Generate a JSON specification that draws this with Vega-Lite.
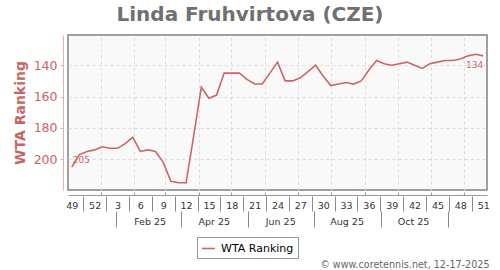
{
  "$schema": "https://vega.github.io/schema/vega-lite/v6.json",
  "width": 419,
  "height": 155,
  "autosize": {"type": "none"},
  "padding": {"left": 68, "top": 35, "right": 13, "bottom": 80},
  "background": "white",
  "title": {"text": "Linda Fruhvirtova (CZE)", "anchor": "middle", "dx": -27.5, "offset": -6, "baseline": "alphabetic", "font": "DejaVu Sans", "fontSize": 20, "fontWeight": "bold", "color": "#707070"},
  "config": {"view": {"stroke": "#808080", "strokeWidth": 1.5, "fill": "#f9f9f9"}, "font": "DejaVu Sans"},
  "data": {"values": [
    {"date": "2024-12-05T12:00", "rank": 205},
    {"date": "2024-12-12T12:00", "rank": 197},
    {"date": "2024-12-19T12:00", "rank": 195},
    {"date": "2024-12-26T12:00", "rank": 194},
    {"date": "2025-01-02T12:00", "rank": 192},
    {"date": "2025-01-09T12:00", "rank": 193},
    {"date": "2025-01-16T12:00", "rank": 193},
    {"date": "2025-01-23T12:00", "rank": 190},
    {"date": "2025-01-30T12:00", "rank": 186},
    {"date": "2025-02-06T12:00", "rank": 195},
    {"date": "2025-02-13T12:00", "rank": 194},
    {"date": "2025-02-20T12:00", "rank": 195},
    {"date": "2025-02-27T12:00", "rank": 202},
    {"date": "2025-03-06T12:00", "rank": 214},
    {"date": "2025-03-13T12:00", "rank": 215},
    {"date": "2025-03-20T12:00", "rank": 215},
    {"date": "2025-03-27T12:00", "rank": 185},
    {"date": "2025-04-03T12:00", "rank": 154},
    {"date": "2025-04-10T12:00", "rank": 161},
    {"date": "2025-04-17T12:00", "rank": 159},
    {"date": "2025-04-24T12:00", "rank": 145},
    {"date": "2025-05-01T12:00", "rank": 145},
    {"date": "2025-05-08T12:00", "rank": 145},
    {"date": "2025-05-15T12:00", "rank": 149},
    {"date": "2025-05-22T12:00", "rank": 152},
    {"date": "2025-05-29T12:00", "rank": 152},
    {"date": "2025-06-05T12:00", "rank": 145},
    {"date": "2025-06-12T12:00", "rank": 138},
    {"date": "2025-06-19T12:00", "rank": 150},
    {"date": "2025-06-26T12:00", "rank": 150},
    {"date": "2025-07-03T12:00", "rank": 148},
    {"date": "2025-07-10T12:00", "rank": 144},
    {"date": "2025-07-17T12:00", "rank": 140},
    {"date": "2025-07-24T12:00", "rank": 147},
    {"date": "2025-07-31T12:00", "rank": 153},
    {"date": "2025-08-07T12:00", "rank": 152},
    {"date": "2025-08-14T12:00", "rank": 151},
    {"date": "2025-08-21T12:00", "rank": 152},
    {"date": "2025-08-28T12:00", "rank": 150},
    {"date": "2025-09-04T12:00", "rank": 143},
    {"date": "2025-09-11T12:00", "rank": 137},
    {"date": "2025-09-18T12:00", "rank": 139},
    {"date": "2025-09-25T12:00", "rank": 140},
    {"date": "2025-10-02T12:00", "rank": 139},
    {"date": "2025-10-09T12:00", "rank": 138},
    {"date": "2025-10-16T12:00", "rank": 140},
    {"date": "2025-10-23T12:00", "rank": 142},
    {"date": "2025-10-30T12:00", "rank": 139},
    {"date": "2025-11-06T12:00", "rank": 138},
    {"date": "2025-11-13T12:00", "rank": 137},
    {"date": "2025-11-20T12:00", "rank": 137},
    {"date": "2025-11-27T12:00", "rank": 136},
    {"date": "2025-12-04T12:00", "rank": 134},
    {"date": "2025-12-11T12:00", "rank": 133},
    {"date": "2025-12-18T12:00", "rank": 134}
  ]},
  "layer": [
    {
      "mark": {"type": "line", "strokeWidth": 1.6},
      "encoding": {
        "x": {"field": "date", "type": "temporal",
          "scale": {"domain": [{"year": 2024, "month": 12, "date": 2}, {"year": 2025, "month": 12, "date": 22}]},
          "axis": {"title": null, "orient": "bottom", "offset": 5, "labels": false,
            "values": [{"year": 2025, "month": 1, "date": 1}, {"year": 2025, "month": 2, "date": 1}, {"year": 2025, "month": 3, "date": 1}, {"year": 2025, "month": 4, "date": 1}, {"year": 2025, "month": 5, "date": 1}, {"year": 2025, "month": 6, "date": 1}, {"year": 2025, "month": 7, "date": 1}, {"year": 2025, "month": 8, "date": 1}, {"year": 2025, "month": 9, "date": 1}, {"year": 2025, "month": 10, "date": 1}, {"year": 2025, "month": 11, "date": 1}, {"year": 2025, "month": 12, "date": 1}],
            "grid": true, "gridColor": "#dcdcdc", "gridDash": [3, 3], "gridWidth": 1,
            "domain": true, "domainColor": "#999999", "domainWidth": 1,
            "ticks": true, "tickSize": -3, "tickColor": "#999999"}},
        "y": {"field": "rank", "type": "quantitative",
          "scale": {"domain": [120.7, 219.6], "reverse": true, "nice": false, "zero": false}},
        "color": {"datum": "WTA Ranking", "scale": {"range": ["#cc6666"]},
          "legend": {"title": null, "orient": "none", "legendX": 129, "legendY": 202, "direction": "horizontal",
            "padding": 4, "strokeColor": "#999999", "fillColor": "white", "symbolType": "stroke", "symbolSize": 169,
            "symbolStrokeWidth": 1.6, "labelFontSize": 11, "labelColor": "#000000", "labelFont": "DejaVu Sans", "labelOffset": 5}}
      }
    },
    {
      "transform": [{"filter": {"field": "date", "equal": {"year": 2024, "month": 12, "date": 5, "hours": 12}}}],
      "mark": {"type": "text", "align": "left", "baseline": "alphabetic", "dx": 1, "dy": -4, "fontSize": 9, "color": "#cc6666"},
      "encoding": {
        "x": {"field": "date", "type": "temporal", "axis": null, "scale": {"domain": [{"year": 2024, "month": 12, "date": 2}, {"year": 2025, "month": 12, "date": 22}]}},
        "y": {"field": "rank", "type": "quantitative", "scale": {"domain": [120.7, 219.6], "reverse": true, "nice": false, "zero": false}},
        "text": {"field": "rank", "type": "quantitative"}
      }
    },
    {
      "transform": [{"filter": {"field": "date", "equal": {"year": 2025, "month": 12, "date": 18, "hours": 12}}}],
      "mark": {"type": "text", "align": "right", "baseline": "alphabetic", "dx": 0, "dy": 12, "fontSize": 9, "color": "#cc6666"},
      "encoding": {
        "x": {"field": "date", "type": "temporal", "axis": null, "scale": {"domain": [{"year": 2024, "month": 12, "date": 2}, {"year": 2025, "month": 12, "date": 22}]}},
        "y": {"field": "rank", "type": "quantitative", "scale": {"domain": [120.7, 219.6], "reverse": true, "nice": false, "zero": false}},
        "text": {"field": "rank", "type": "quantitative"}
      }
    },
    {
      "mark": {"type": "point", "opacity": 0},
      "encoding": {
        "x": {"field": "date", "type": "temporal", "scale": {"domain": [{"year": 2024, "month": 12, "date": 2}, {"year": 2025, "month": 12, "date": 22}]},
          "axis": {"title": null, "orient": "bottom", "offset": 5, "format": "%-V", "domain": false, "ticks": false, "grid": false,
            "labelPadding": 5, "labelFontSize": 9.5, "labelFont": "DejaVu Sans", "labelColor": "#333333", "labelFlush": false, "labelOverlap": false,
            "values": [{"year": 2024, "month": 12, "date": 5, "hours": 12}, {"year": 2024, "month": 12, "date": 26, "hours": 12}, {"year": 2025, "month": 1, "date": 16, "hours": 12}, {"year": 2025, "month": 2, "date": 6, "hours": 12}, {"year": 2025, "month": 2, "date": 27, "hours": 12}, {"year": 2025, "month": 3, "date": 20, "hours": 12}, {"year": 2025, "month": 4, "date": 10, "hours": 12}, {"year": 2025, "month": 5, "date": 1, "hours": 12}, {"year": 2025, "month": 5, "date": 22, "hours": 12}, {"year": 2025, "month": 6, "date": 12, "hours": 12}, {"year": 2025, "month": 7, "date": 3, "hours": 12}, {"year": 2025, "month": 7, "date": 24, "hours": 12}, {"year": 2025, "month": 8, "date": 14, "hours": 12}, {"year": 2025, "month": 9, "date": 4, "hours": 12}, {"year": 2025, "month": 9, "date": 25, "hours": 12}, {"year": 2025, "month": 10, "date": 16, "hours": 12}, {"year": 2025, "month": 11, "date": 6, "hours": 12}, {"year": 2025, "month": 11, "date": 27, "hours": 12}, {"year": 2025, "month": 12, "date": 18, "hours": 12}]}}
      }
    },
    {
      "mark": {"type": "point", "opacity": 0},
      "encoding": {
        "x": {"field": "date", "type": "temporal", "scale": {"domain": [{"year": 2024, "month": 12, "date": 2}, {"year": 2025, "month": 12, "date": 22}]},
          "axis": {"title": null, "orient": "bottom", "offset": 6, "labels": false, "domain": false, "grid": false,
            "ticks": true, "tickSize": 15, "tickColor": "#888888", "tickWidth": 1,
            "values": [{"year": 2024, "month": 12, "date": 16}, {"year": 2025, "month": 1, "date": 6}, {"year": 2025, "month": 1, "date": 27}, {"year": 2025, "month": 2, "date": 17}, {"year": 2025, "month": 3, "date": 10}, {"year": 2025, "month": 3, "date": 31}, {"year": 2025, "month": 4, "date": 21}, {"year": 2025, "month": 5, "date": 12}, {"year": 2025, "month": 6, "date": 2}, {"year": 2025, "month": 6, "date": 23}, {"year": 2025, "month": 7, "date": 14}, {"year": 2025, "month": 8, "date": 4}, {"year": 2025, "month": 8, "date": 25}, {"year": 2025, "month": 9, "date": 15}, {"year": 2025, "month": 10, "date": 6}, {"year": 2025, "month": 10, "date": 27}, {"year": 2025, "month": 11, "date": 17}, {"year": 2025, "month": 12, "date": 8}]}}
      }
    },
    {
      "mark": {"type": "point", "opacity": 0},
      "encoding": {
        "x": {"field": "date", "type": "temporal", "scale": {"domain": [{"year": 2024, "month": 12, "date": 2}, {"year": 2025, "month": 12, "date": 22}]},
          "axis": {"title": "© www.coretennis.net, 12-17-2025", "titleX": 421, "titleY": 72.5, "titleAlign": "right", "titleBaseline": "alphabetic",
            "titleFont": "DejaVu Sans", "titleFontSize": 9.6, "titleFontWeight": "normal", "titleColor": "#666666",
            "orient": "bottom", "offset": 5, "format": "%b %y", "domain": false, "ticks": false, "grid": false,
            "labelPadding": 21, "labelFontSize": 9.5, "labelFont": "DejaVu Sans", "labelColor": "#333333", "labelFlush": false, "labelOverlap": false,
            "values": [{"year": 2025, "month": 2, "date": 15}, {"year": 2025, "month": 4, "date": 15}, {"year": 2025, "month": 6, "date": 15}, {"year": 2025, "month": 8, "date": 15}, {"year": 2025, "month": 10, "date": 15}]}}
      }
    },
    {
      "mark": {"type": "point", "opacity": 0},
      "encoding": {
        "x": {"field": "date", "type": "temporal", "scale": {"domain": [{"year": 2024, "month": 12, "date": 2}, {"year": 2025, "month": 12, "date": 22}]},
          "axis": {"title": null, "orient": "bottom", "offset": 21, "labels": false, "domain": false, "grid": false,
            "ticks": true, "tickSize": 16, "tickColor": "#888888", "tickWidth": 1,
            "values": [{"year": 2025, "month": 1, "date": 15}, {"year": 2025, "month": 3, "date": 16}, {"year": 2025, "month": 5, "date": 16}, {"year": 2025, "month": 7, "date": 16}, {"year": 2025, "month": 9, "date": 16}, {"year": 2025, "month": 11, "date": 16}]}}
      }
    }
  ],
  "encoding": {
    "y": {"field": "rank", "type": "quantitative",
      "axis": {"orient": "left", "title": "WTA Ranking", "values": [140, 160, 180, 200], "offset": 5,
        "grid": true, "gridColor": "#dcdcdc", "gridDash": [3, 3], "gridWidth": 1,
        "domain": true, "domainColor": "#e3b0b0", "domainWidth": 1, "ticks": true, "tickColor": "#bbbbbb", "tickSize": 3,
        "labels": true, "labelPadding": 3, "labelColor": "#c86464", "labelFontSize": 12.5, "labelFont": "DejaVu Sans",
        "titleColor": "#c86464", "titleFontSize": 14, "titleFontWeight": "bold", "titleFont": "DejaVu Sans", "titlePadding": 6}}
  },
  "resolve": {"axis": {"x": "independent"}}
}
